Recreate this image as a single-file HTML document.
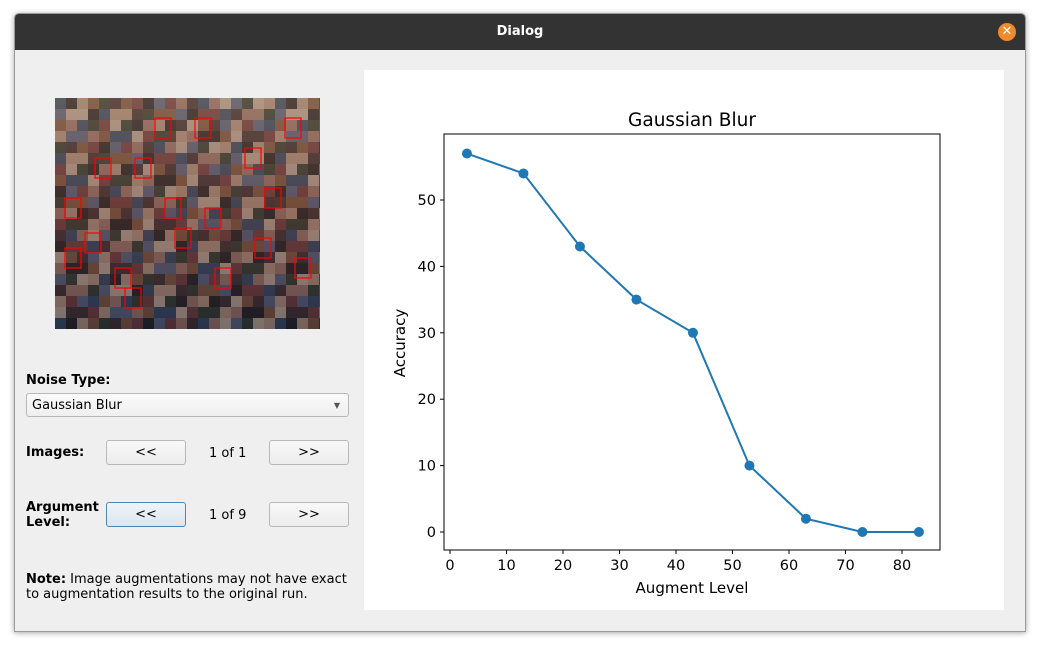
<!DOCTYPE html>
<html><head><meta charset="utf-8">
<style>
body{margin:0;width:1043px;height:649px;background:#fff;position:relative;overflow:hidden;font-family:"DejaVu Sans","Liberation Sans",sans-serif;font-size:13px;color:#000}
.win{position:absolute;left:14px;top:13px;width:1010px;height:617px;background:#efefef;border:1px solid #999;box-shadow:0 1px 6px rgba(0,0,0,.35);border-radius:5px 5px 0 0;overflow:hidden}
.title{position:absolute;left:0;top:0;width:100%;height:36px;background:#333;color:#fff;font-weight:bold;text-align:center;line-height:36px;font-size:13px}
.close{position:absolute;right:9px;top:9px;width:18px;height:18px;border-radius:50%;background:#f08a2a;color:#fff;font-size:13px;line-height:18px;text-align:center}
.abs{position:absolute}
.btn{position:absolute;width:78px;height:23px;border:1px solid #b8b8b8;border-radius:3px;background:linear-gradient(#f8f8f8,#ececec);text-align:center;line-height:23px;font-size:13px}
.lbl{position:absolute;font-weight:bold;font-size:13px}
</style></head><body>
<div class="win">
 <div class="title">Dialog<div class="close">✕</div></div>
 <svg class="abs" style="left:40px;top:84px" width="265" height="231">
  <defs><linearGradient id="g" x1="0" y1="0" x2="0" y2="1"><stop offset="0" stop-color="#8a6f60"/><stop offset=".5" stop-color="#5a3a38"/><stop offset="1" stop-color="#1e1e2e"/></linearGradient></defs>
  <rect width="265" height="231" fill="url(#g)"/>
  <g id="cells"></g>
 </svg>
 <div class="lbl" style="left:11px;top:359px">Noise Type:</div>
 <div class="abs" style="left:11px;top:379px;width:323px;height:24px;border:1px solid #b8b8b8;border-radius:3px;background:linear-gradient(#fafafa,#efefef);line-height:23px;padding-left:5px;box-sizing:border-box">Gaussian Blur<span style="position:absolute;right:8px;top:0;font-size:8px;color:#555">▼</span></div>
 <div class="lbl" style="left:11px;top:431px">Images:</div>
 <div class="btn" style="left:91px;top:426px">&lt;&lt;</div>
 <div class="abs" style="left:194px;top:432px">1 of 1</div>
 <div class="btn" style="left:254px;top:426px">&gt;&gt;</div>
 <div class="lbl" style="left:11px;top:486px;line-height:15px">Argument<br>Level:</div>
 <div class="btn" style="left:91px;top:488px;border-color:#4a86b8;background:linear-gradient(#eef3f8,#dde6ee)">&lt;&lt;</div>
 <div class="abs" style="left:194px;top:494px">1 of 9</div>
 <div class="btn" style="left:254px;top:488px">&gt;&gt;</div>
 <div class="abs" style="left:11px;top:558px;line-height:15px"><b>Note:</b> Image augmentations may not have exact<br>to augmentation results to the original run.</div>
 <div class="abs" style="left:349px;top:56px;width:640px;height:540px;background:#fff"></div>
</div>
<svg class="abs" style="left:0;top:0" width="1043" height="649" id="chart" font-family="DejaVu Sans, Liberation Sans, sans-serif"></svg>
<script>
const levels=[3,13,23,33,43,53,63,73,83];
const accuracy=[57,54,43,35,30,10,2,0,0];
const xTicks=[0,10,20,30,40,50,60,70,80];
const yTicks=[0,10,20,30,40,50];
const NS='http://www.w3.org/2000/svg';
const L=444,R=940,T=134,B=550;
const sx=v=>450+(v-0)*(902-450)/80;
const sy=v=>532-v*(532-200)/50;
const svg=document.getElementById('chart');
function mk(t,a,txt){const e=document.createElementNS(NS,t);for(const k in a)e.setAttribute(k,a[k]);if(txt!=null)e.textContent=txt;svg.appendChild(e);return e;}
let e=mk('rect',{x:L,y:T,width:R-L,height:B-T,fill:'none',stroke:'#000','stroke-width':1});


xTicks.forEach(v=>{const x=sx(v);
 let t=mk('line',{x1:x,x2:x,y1:B,y2:B+4,stroke:'#000'});
 
 
 let l=mk('text',{x:x,y:B+20,'text-anchor':'middle','font-size':14.5},v);
 
 });
yTicks.forEach(v=>{const y=sy(v);
 let t=mk('line',{x1:L-4,x2:L,y1:y,y2:y,stroke:'#000'});
 
 
 let l=mk('text',{x:L-8,y:y+5,'text-anchor':'end','font-size':14.5},v);
 
 });
let p=mk('polyline',{points:levels.map((v,i)=>sx(v)+','+sy(accuracy[i])).join(' '),fill:'none',stroke:'#1f77b4','stroke-width':2});


levels.forEach((v,i)=>{let c=mk('circle',{cx:sx(v),cy:sy(accuracy[i]),r:5,fill:'#1f77b4'});
 
 });
let tt=mk('text',{x:(L+R)/2,y:126,'text-anchor':'middle','font-size':18.5},'Gaussian Blur');


let xt=mk('text',{x:(L+R)/2,y:593,'text-anchor':'middle','font-size':15},'Augment Level');


let yt=mk('text',{x:0,y:0,'text-anchor':'middle','font-size':15,transform:'translate(405,343) rotate(-90)'},'Accuracy');


const g=document.getElementById('cells');
const cols=['#c9a58a','#3a2a2a','#7a3a3a','#2e4a6a','#d8c0a8','#1a1a1a','#8a5a3a','#5a6a8a','#b08070','#2a3a2a'];
let k=0;
for(let y=0;y<231;y+=11)for(let x=0;x<265;x+=11){k=(k*7+3+x+y)%10;
 const r=document.createElementNS(NS,'rect');r.setAttribute('x',x);r.setAttribute('y',y);r.setAttribute('width',11);r.setAttribute('height',11);r.setAttribute('fill',cols[k]);r.setAttribute('opacity',0.5);g.appendChild(r);}
const boxes=[[10,100],[30,135],[80,60],[120,130],[60,170],[150,110],[210,90],[240,160],[70,190],[160,170],[230,20],[100,20],[40,60],[190,50],[140,20],[200,140],[10,150],[110,100]];
boxes.forEach(b=>{const r=document.createElementNS(NS,'rect');r.setAttribute('x',b[0]);r.setAttribute('y',b[1]);r.setAttribute('width',16);r.setAttribute('height',20);r.setAttribute('fill','none');r.setAttribute('stroke','#f00');r.setAttribute('stroke-width',1.2);g.appendChild(r);});
</script>
</body></html>
